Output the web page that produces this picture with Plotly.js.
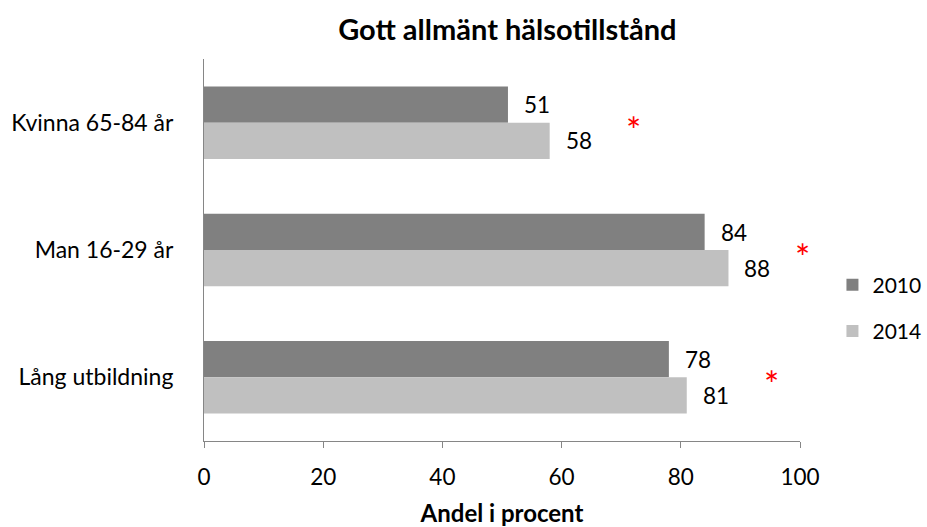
<!DOCTYPE html>
<html>
<head>
<meta charset="utf-8">
<script src="https://cdn.plot.ly/plotly-3.0.1.min.js"></script>
<style>html,body{margin:0;padding:0;background:#fff;}#chart{width:927px;height:527px;}</style>
</head>
<body>
<div id="chart"></div>
<script>
const categories = ["Kvinna 65-84 år", "Man 16-29 år", "Lång utbildning"];
const values2010 = [51, 84, 78];
const values2014 = [58, 88, 81];
const seriesNames = ["2010", "2014"];
const starX = [72, 100.5, 95.3];
const xTicks = [0, 20, 40, 60, 80, 100];

const FONT = "Lato, 'Open Sans', sans-serif";
const colors = ["#808080", "#c0c0c0"];
const X_MAX = 100;

const traces = [
  {type: "bar", orientation: "h", name: seriesNames[0], y: categories, x: values2010,
   marker: {color: colors[0]}, hoverinfo: "none", legendgroup: "a"},
  {type: "bar", orientation: "h", name: seriesNames[1], y: categories, x: values2014,
   marker: {color: colors[1]}, hoverinfo: "none", legendgroup: "b"}
];

const annotations = [];
categories.forEach((c, i) => {
  annotations.push({x: values2010[i], y: c, xref: "x", yref: "y", text: String(values2010[i]),
    showarrow: false, xanchor: "left", yanchor: "middle", xshift: 14, yshift: 18,
    font: {family: FONT, size: 22.5, color: "#000"}});
  annotations.push({x: values2014[i], y: c, xref: "x", yref: "y", text: String(values2014[i]),
    showarrow: false, xanchor: "left", yanchor: "middle", xshift: 14, yshift: -18,
    font: {family: FONT, size: 22.5, color: "#000"}});
  // star markers: keep inside axis range, shift by pixels for the part beyond it
  const sx = Math.min(starX[i], X_MAX);
  annotations.push({x: sx, y: c, xref: "x", yref: "y", text: "*",
    showarrow: false, xanchor: "center", yanchor: "middle",
    xshift: (starX[i] - sx) * 5.96, yshift: -7,
    font: {family: FONT, size: 36, color: "#ff0000"}});
});

const layout = {
  width: 927, height: 527,
  margin: {l: 204, r: 127, t: 59, b: 86},
  paper_bgcolor: "#fff", plot_bgcolor: "#fff",
  font: {family: FONT, size: 22, color: "#000"},
  title: {text: "<b>Gott allmänt hälsotillstånd</b>", font: {family: FONT, size: 29, color: "#000"},
    x: 0.509, xanchor: "center", xref: "paper", y: 0.943, yanchor: "middle"},
  barmode: "group", bargap: 0.43, bargroupgap: 0,
  xaxis: {range: [0, X_MAX], tickvals: xTicks, ticktext: xTicks.map(String),
    showgrid: false, zeroline: false, showline: true, linecolor: "#868686", linewidth: 1,
    ticks: "outside", ticklen: 6, tickcolor: "#868686", ticklabelstandoff: 10,
    tickfont: {family: FONT, size: 22.5, color: "#000"}, automargin: false,
    title: {text: "<b>Andel i procent</b>", font: {family: FONT, size: 24, color: "#000"}, standoff: 19},
    fixedrange: true},
  yaxis: {autorange: "reversed", showgrid: false, zeroline: false, showline: true,
    linecolor: "#868686", linewidth: 1, ticks: "", ticklabelstandoff: 25, automargin: false,
    tickfont: {family: FONT, size: 23, color: "#000"}, fixedrange: true},
  legend: {xref: "container", yref: "container", x: 0.898, xanchor: "left", y: 0.4156, yanchor: "middle",
    traceorder: "grouped", tracegroupgap: 16,
    font: {family: FONT, size: 21, color: "#000"}, itemwidth: 30,
    bgcolor: "rgba(0,0,0,0)"},
  annotations: annotations,
  showlegend: true
};

Plotly.newPlot("chart", traces, layout, {displayModeBar: false, staticPlot: true});
</script>
</body>
</html>
